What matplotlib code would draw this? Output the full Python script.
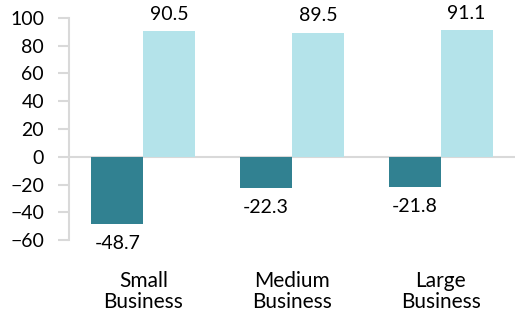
import numpy as np
import matplotlib.pyplot as plt

plt.rcParams['font.family'] = ['Lato', 'DejaVu Sans']

# data
categories = ['Small\nBusiness', 'Medium\nBusiness', 'Large\nBusiness']
neg_vals = [-48.7, -22.3, -21.8]
pos_vals = [90.5, 89.5, 91.1]

dark = '#318191'
light = '#b4e3ea'
grey = '#d9d9d9'

fig = plt.figure(figsize=(5.18, 3.15), dpi=100)
ax = fig.add_axes([0.1332, 0.238, 0.861, 0.705])

x = np.arange(len(categories))
w = 0.35
b1 = ax.bar(x - w / 2, neg_vals, w, color=dark)
b2 = ax.bar(x + w / 2, pos_vals, w, color=light)

for rect, v in zip(b1, neg_vals):
    ax.annotate(f'{v:.1f}', (rect.get_x() + rect.get_width() / 2, v),
                xytext=(0, -8), textcoords='offset points',
                ha='center', va='top', fontsize=14)
for rect, v in zip(b2, pos_vals):
    ax.annotate(f'{v:.1f}', (rect.get_x() + rect.get_width() / 2, v),
                xytext=(0, 6), textcoords='offset points',
                ha='center', va='bottom', fontsize=14)

ax.axhline(0, color=grey, lw=1.5, zorder=0)
ax.set_xlim(-0.5, 2.5)
ax.set_ylim(-60, 100)
ax.set_yticks(range(-60, 101, 20))
ax.set_xticks(x)
ax.set_xticklabels(categories, fontsize=15, linespacing=1.1)
ax.tick_params(axis='x', length=0, pad=22)
ax.tick_params(axis='y', length=8, width=1.5, color=grey, pad=10, labelsize=14)

for s in ['top', 'right', 'bottom']:
    ax.spines[s].set_visible(False)
ax.spines['left'].set_color(grey)
ax.spines['left'].set_linewidth(1.5)

fig.savefig('out.png', dpi=100)
